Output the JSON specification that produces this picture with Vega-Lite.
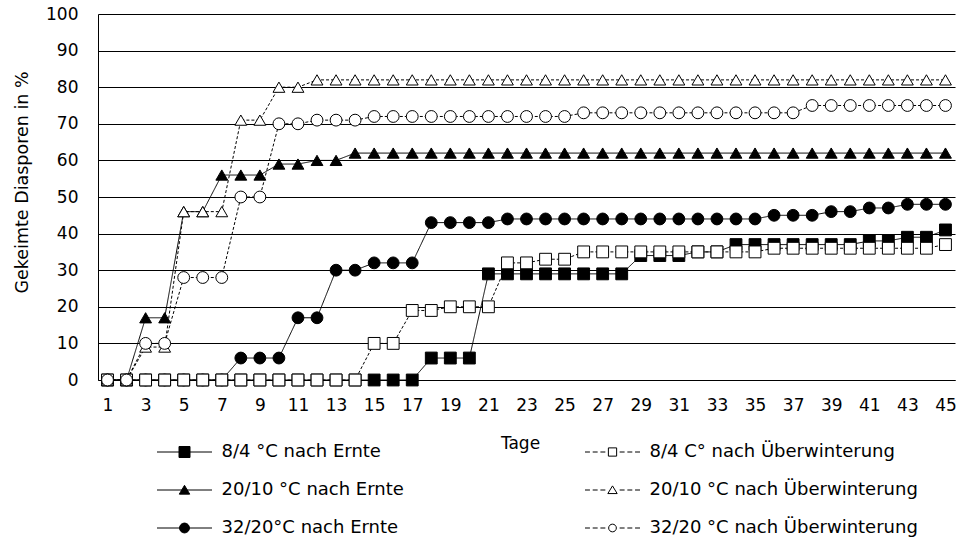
{
  "$schema": "https://vega.github.io/schema/vega-lite/v6.json",
  "width": 857,
  "height": 366,
  "autosize": {"type": "none"},
  "padding": {"left": 98, "top": 14, "right": 3, "bottom": 160},
  "background": "white",
  "config": {"view": {"stroke": null}, "font": "DejaVu Sans"},
  "data": {"values": [
    {"Tag":1,"8/4 °C nach Ernte":0,"20/10 °C nach Ernte":0,"32/20°C nach Ernte":0,"8/4 C° nach Überwinterung":0,"20/10 °C nach Überwinterung":0,"32/20 °C nach Überwinterung":0},
    {"Tag":2,"8/4 °C nach Ernte":0,"20/10 °C nach Ernte":0,"32/20°C nach Ernte":0,"8/4 C° nach Überwinterung":0,"20/10 °C nach Überwinterung":0,"32/20 °C nach Überwinterung":0},
    {"Tag":3,"8/4 °C nach Ernte":0,"20/10 °C nach Ernte":17,"32/20°C nach Ernte":0,"8/4 C° nach Überwinterung":0,"20/10 °C nach Überwinterung":9,"32/20 °C nach Überwinterung":10},
    {"Tag":4,"8/4 °C nach Ernte":0,"20/10 °C nach Ernte":17,"32/20°C nach Ernte":0,"8/4 C° nach Überwinterung":0,"20/10 °C nach Überwinterung":9,"32/20 °C nach Überwinterung":10},
    {"Tag":5,"8/4 °C nach Ernte":0,"20/10 °C nach Ernte":46,"32/20°C nach Ernte":0,"8/4 C° nach Überwinterung":0,"20/10 °C nach Überwinterung":46,"32/20 °C nach Überwinterung":28},
    {"Tag":6,"8/4 °C nach Ernte":0,"20/10 °C nach Ernte":46,"32/20°C nach Ernte":0,"8/4 C° nach Überwinterung":0,"20/10 °C nach Überwinterung":46,"32/20 °C nach Überwinterung":28},
    {"Tag":7,"8/4 °C nach Ernte":0,"20/10 °C nach Ernte":56,"32/20°C nach Ernte":0,"8/4 C° nach Überwinterung":0,"20/10 °C nach Überwinterung":46,"32/20 °C nach Überwinterung":28},
    {"Tag":8,"8/4 °C nach Ernte":0,"20/10 °C nach Ernte":56,"32/20°C nach Ernte":6,"8/4 C° nach Überwinterung":0,"20/10 °C nach Überwinterung":71,"32/20 °C nach Überwinterung":50},
    {"Tag":9,"8/4 °C nach Ernte":0,"20/10 °C nach Ernte":56,"32/20°C nach Ernte":6,"8/4 C° nach Überwinterung":0,"20/10 °C nach Überwinterung":71,"32/20 °C nach Überwinterung":50},
    {"Tag":10,"8/4 °C nach Ernte":0,"20/10 °C nach Ernte":59,"32/20°C nach Ernte":6,"8/4 C° nach Überwinterung":0,"20/10 °C nach Überwinterung":80,"32/20 °C nach Überwinterung":70},
    {"Tag":11,"8/4 °C nach Ernte":0,"20/10 °C nach Ernte":59,"32/20°C nach Ernte":17,"8/4 C° nach Überwinterung":0,"20/10 °C nach Überwinterung":80,"32/20 °C nach Überwinterung":70},
    {"Tag":12,"8/4 °C nach Ernte":0,"20/10 °C nach Ernte":60,"32/20°C nach Ernte":17,"8/4 C° nach Überwinterung":0,"20/10 °C nach Überwinterung":82,"32/20 °C nach Überwinterung":71},
    {"Tag":13,"8/4 °C nach Ernte":0,"20/10 °C nach Ernte":60,"32/20°C nach Ernte":30,"8/4 C° nach Überwinterung":0,"20/10 °C nach Überwinterung":82,"32/20 °C nach Überwinterung":71},
    {"Tag":14,"8/4 °C nach Ernte":0,"20/10 °C nach Ernte":62,"32/20°C nach Ernte":30,"8/4 C° nach Überwinterung":0,"20/10 °C nach Überwinterung":82,"32/20 °C nach Überwinterung":71},
    {"Tag":15,"8/4 °C nach Ernte":0,"20/10 °C nach Ernte":62,"32/20°C nach Ernte":32,"8/4 C° nach Überwinterung":10,"20/10 °C nach Überwinterung":82,"32/20 °C nach Überwinterung":72},
    {"Tag":16,"8/4 °C nach Ernte":0,"20/10 °C nach Ernte":62,"32/20°C nach Ernte":32,"8/4 C° nach Überwinterung":10,"20/10 °C nach Überwinterung":82,"32/20 °C nach Überwinterung":72},
    {"Tag":17,"8/4 °C nach Ernte":0,"20/10 °C nach Ernte":62,"32/20°C nach Ernte":32,"8/4 C° nach Überwinterung":19,"20/10 °C nach Überwinterung":82,"32/20 °C nach Überwinterung":72},
    {"Tag":18,"8/4 °C nach Ernte":6,"20/10 °C nach Ernte":62,"32/20°C nach Ernte":43,"8/4 C° nach Überwinterung":19,"20/10 °C nach Überwinterung":82,"32/20 °C nach Überwinterung":72},
    {"Tag":19,"8/4 °C nach Ernte":6,"20/10 °C nach Ernte":62,"32/20°C nach Ernte":43,"8/4 C° nach Überwinterung":20,"20/10 °C nach Überwinterung":82,"32/20 °C nach Überwinterung":72},
    {"Tag":20,"8/4 °C nach Ernte":6,"20/10 °C nach Ernte":62,"32/20°C nach Ernte":43,"8/4 C° nach Überwinterung":20,"20/10 °C nach Überwinterung":82,"32/20 °C nach Überwinterung":72},
    {"Tag":21,"8/4 °C nach Ernte":29,"20/10 °C nach Ernte":62,"32/20°C nach Ernte":43,"8/4 C° nach Überwinterung":20,"20/10 °C nach Überwinterung":82,"32/20 °C nach Überwinterung":72},
    {"Tag":22,"8/4 °C nach Ernte":29,"20/10 °C nach Ernte":62,"32/20°C nach Ernte":44,"8/4 C° nach Überwinterung":32,"20/10 °C nach Überwinterung":82,"32/20 °C nach Überwinterung":72},
    {"Tag":23,"8/4 °C nach Ernte":29,"20/10 °C nach Ernte":62,"32/20°C nach Ernte":44,"8/4 C° nach Überwinterung":32,"20/10 °C nach Überwinterung":82,"32/20 °C nach Überwinterung":72},
    {"Tag":24,"8/4 °C nach Ernte":29,"20/10 °C nach Ernte":62,"32/20°C nach Ernte":44,"8/4 C° nach Überwinterung":33,"20/10 °C nach Überwinterung":82,"32/20 °C nach Überwinterung":72},
    {"Tag":25,"8/4 °C nach Ernte":29,"20/10 °C nach Ernte":62,"32/20°C nach Ernte":44,"8/4 C° nach Überwinterung":33,"20/10 °C nach Überwinterung":82,"32/20 °C nach Überwinterung":72},
    {"Tag":26,"8/4 °C nach Ernte":29,"20/10 °C nach Ernte":62,"32/20°C nach Ernte":44,"8/4 C° nach Überwinterung":35,"20/10 °C nach Überwinterung":82,"32/20 °C nach Überwinterung":73},
    {"Tag":27,"8/4 °C nach Ernte":29,"20/10 °C nach Ernte":62,"32/20°C nach Ernte":44,"8/4 C° nach Überwinterung":35,"20/10 °C nach Überwinterung":82,"32/20 °C nach Überwinterung":73},
    {"Tag":28,"8/4 °C nach Ernte":29,"20/10 °C nach Ernte":62,"32/20°C nach Ernte":44,"8/4 C° nach Überwinterung":35,"20/10 °C nach Überwinterung":82,"32/20 °C nach Überwinterung":73},
    {"Tag":29,"8/4 °C nach Ernte":34,"20/10 °C nach Ernte":62,"32/20°C nach Ernte":44,"8/4 C° nach Überwinterung":35,"20/10 °C nach Überwinterung":82,"32/20 °C nach Überwinterung":73},
    {"Tag":30,"8/4 °C nach Ernte":34,"20/10 °C nach Ernte":62,"32/20°C nach Ernte":44,"8/4 C° nach Überwinterung":35,"20/10 °C nach Überwinterung":82,"32/20 °C nach Überwinterung":73},
    {"Tag":31,"8/4 °C nach Ernte":34,"20/10 °C nach Ernte":62,"32/20°C nach Ernte":44,"8/4 C° nach Überwinterung":35,"20/10 °C nach Überwinterung":82,"32/20 °C nach Überwinterung":73},
    {"Tag":32,"8/4 °C nach Ernte":35,"20/10 °C nach Ernte":62,"32/20°C nach Ernte":44,"8/4 C° nach Überwinterung":35,"20/10 °C nach Überwinterung":82,"32/20 °C nach Überwinterung":73},
    {"Tag":33,"8/4 °C nach Ernte":35,"20/10 °C nach Ernte":62,"32/20°C nach Ernte":44,"8/4 C° nach Überwinterung":35,"20/10 °C nach Überwinterung":82,"32/20 °C nach Überwinterung":73},
    {"Tag":34,"8/4 °C nach Ernte":37,"20/10 °C nach Ernte":62,"32/20°C nach Ernte":44,"8/4 C° nach Überwinterung":35,"20/10 °C nach Überwinterung":82,"32/20 °C nach Überwinterung":73},
    {"Tag":35,"8/4 °C nach Ernte":37,"20/10 °C nach Ernte":62,"32/20°C nach Ernte":44,"8/4 C° nach Überwinterung":35,"20/10 °C nach Überwinterung":82,"32/20 °C nach Überwinterung":73},
    {"Tag":36,"8/4 °C nach Ernte":37,"20/10 °C nach Ernte":62,"32/20°C nach Ernte":45,"8/4 C° nach Überwinterung":36,"20/10 °C nach Überwinterung":82,"32/20 °C nach Überwinterung":73},
    {"Tag":37,"8/4 °C nach Ernte":37,"20/10 °C nach Ernte":62,"32/20°C nach Ernte":45,"8/4 C° nach Überwinterung":36,"20/10 °C nach Überwinterung":82,"32/20 °C nach Überwinterung":73},
    {"Tag":38,"8/4 °C nach Ernte":37,"20/10 °C nach Ernte":62,"32/20°C nach Ernte":45,"8/4 C° nach Überwinterung":36,"20/10 °C nach Überwinterung":82,"32/20 °C nach Überwinterung":75},
    {"Tag":39,"8/4 °C nach Ernte":37,"20/10 °C nach Ernte":62,"32/20°C nach Ernte":46,"8/4 C° nach Überwinterung":36,"20/10 °C nach Überwinterung":82,"32/20 °C nach Überwinterung":75},
    {"Tag":40,"8/4 °C nach Ernte":37,"20/10 °C nach Ernte":62,"32/20°C nach Ernte":46,"8/4 C° nach Überwinterung":36,"20/10 °C nach Überwinterung":82,"32/20 °C nach Überwinterung":75},
    {"Tag":41,"8/4 °C nach Ernte":38,"20/10 °C nach Ernte":62,"32/20°C nach Ernte":47,"8/4 C° nach Überwinterung":36,"20/10 °C nach Überwinterung":82,"32/20 °C nach Überwinterung":75},
    {"Tag":42,"8/4 °C nach Ernte":38,"20/10 °C nach Ernte":62,"32/20°C nach Ernte":47,"8/4 C° nach Überwinterung":36,"20/10 °C nach Überwinterung":82,"32/20 °C nach Überwinterung":75},
    {"Tag":43,"8/4 °C nach Ernte":39,"20/10 °C nach Ernte":62,"32/20°C nach Ernte":48,"8/4 C° nach Überwinterung":36,"20/10 °C nach Überwinterung":82,"32/20 °C nach Überwinterung":75},
    {"Tag":44,"8/4 °C nach Ernte":39,"20/10 °C nach Ernte":62,"32/20°C nach Ernte":48,"8/4 C° nach Überwinterung":36,"20/10 °C nach Überwinterung":82,"32/20 °C nach Überwinterung":75},
    {"Tag":45,"8/4 °C nach Ernte":41,"20/10 °C nach Ernte":62,"32/20°C nach Ernte":48,"8/4 C° nach Überwinterung":37,"20/10 °C nach Überwinterung":82,"32/20 °C nach Überwinterung":75}
  ]},
  "transform": [
    {"fold": ["8/4 °C nach Ernte","20/10 °C nach Ernte","32/20°C nach Ernte","8/4 C° nach Überwinterung","20/10 °C nach Überwinterung","32/20 °C nach Überwinterung"], "as": ["serie","wert"]}
  ],
  "encoding": {
    "x": {
      "field": "Tag", "type": "quantitative",
      "scale": {"domain": [0.5, 45.5], "nice": false, "zero": false},
      "axis": {
        "values": [1,3,5,7,9,11,13,15,17,19,21,23,25,27,29,31,33,35,37,39,41,43,45],
        "title": "Tage", "grid": false, "ticks": false, "tickSize": 0,
        "labelPadding": 17, "labelFontSize": 17, "labelFont": "DejaVu Sans", "labelColor": "black",
        "labelFlush": false, "labelOverlap": false,
        "domainColor": "black", "domainWidth": 1,
        "titleFont": "DejaVu Sans", "titleFontSize": 17, "titleFontWeight": "normal", "titleColor": "black",
        "titleX": 422, "titleY": 68, "titleBaseline": "alphabetic", "titleAlign": "center"
      }
    },
    "y": {
      "field": "wert", "type": "quantitative",
      "scale": {"domain": [0, 100], "nice": false},
      "axis": {
        "values": [0,10,20,30,40,50,60,70,80,90,100],
        "title": "Gekeimte Diasporen in %", "grid": true, "gridColor": "black", "gridWidth": 1,
        "ticks": false, "tickSize": 0, "labelPadding": 20,
        "labelFontSize": 17, "labelFont": "DejaVu Sans", "labelColor": "black",
        "domainColor": "black", "domainWidth": 1,
        "titleFont": "DejaVu Sans", "titleFontSize": 17.5, "titleFontWeight": "normal", "titleColor": "black",
        "titleAngle": -90, "titleX": -76, "titleY": 168, "titleAlign": "center", "titleBaseline": "middle"
      }
    }
  },
  "layer": [
    {
      "mark": {"type": "line", "color": "black", "strokeWidth": 1},
      "encoding": {
        "detail": {"field": "serie", "type": "nominal"},
        "strokeDash": {
          "field": "serie", "type": "nominal",
          "scale": {"domain": ["8/4 °C nach Ernte","20/10 °C nach Ernte","32/20°C nach Ernte","8/4 C° nach Überwinterung","20/10 °C nach Überwinterung","32/20 °C nach Überwinterung"],
                    "range": [[1,0],[1,0],[1,0],[3,2],[3,2],[3,2]]},
          "legend": null
        }
      }
    },
    {
      "mark": {"type": "point", "filled": true, "stroke": "black", "strokeWidth": 1, "size": 140, "opacity": 1},
      "encoding": {
        "shape": {
          "field": "serie", "type": "nominal",
          "scale": {"domain": ["8/4 °C nach Ernte","20/10 °C nach Ernte","32/20°C nach Ernte","8/4 C° nach Überwinterung","20/10 °C nach Überwinterung","32/20 °C nach Überwinterung"],
                    "range": ["square","triangle-up","circle","square","triangle-up","circle"]},
          "legend": null
        },
        "fill": {
          "field": "serie", "type": "nominal",
          "scale": {"domain": ["8/4 °C nach Ernte","20/10 °C nach Ernte","32/20°C nach Ernte","8/4 C° nach Überwinterung","20/10 °C nach Überwinterung","32/20 °C nach Überwinterung"],
                    "range": ["black","black","black","white","white","white"]},
          "legend": null
        }
      }
    },
    {
      "transform": [{"filter": "datum.wert < 0"}],
      "mark": {"type": "point", "filled": true, "strokeWidth": 1, "opacity": 1},
      "encoding": {
        "shape": {
          "field": "serie", "type": "nominal",
          "scale": {"domain": ["8/4 °C nach Ernte","20/10 °C nach Ernte","32/20°C nach Ernte","8/4 C° nach Überwinterung","20/10 °C nach Überwinterung","32/20 °C nach Überwinterung"],
                    "range": [
                      "M-5,0H5M-1,-1H1V1H-1Z",
                      "M-5,0H5M0,-0.85L0.95,0.75H-0.95Z",
                      "M-5,0H5M0.9,0A0.9,0.9,0,1,1,-0.9,0A0.9,0.9,0,1,1,0.9,0Z",
                      "M-5,0H-4.1M-3.6,0H-2.7M-2.2,0H-1.3M1.3,0H2.2M2.7,0H3.6M4.1,0H5M-0.75,-0.75H0.75V0.75H-0.75Z",
                      "M-5,0H-4.1M-3.6,0H-2.7M-2.2,0H-1.3M1.3,0H2.2M2.7,0H3.6M4.1,0H5M0,-0.75L0.85,0.65H-0.85Z",
                      "M-5,0H-4.1M-3.6,0H-2.7M-2.2,0H-1.3M1.3,0H2.2M2.7,0H3.6M4.1,0H5M0.7,0A0.7,0.7,0,1,1,-0.7,0A0.7,0.7,0,1,1,0.7,0Z"
                    ]},
          "legend": {"title": null, "orient": "none", "legendX": 77.5, "legendY": 429, "columns": 2, "columnPadding": 178, "rowPadding": 20, "padding": 0,
                     "symbolSize": 121, "labelOffset": 28, "labelFont": "DejaVu Sans", "labelFontSize": 18, "labelColor": "black", "labelLimit": 0,
                     "symbolStrokeWidth": 1, "symbolStrokeColor": "black"}
        },
        "fill": {
          "field": "serie", "type": "nominal",
          "scale": {"domain": ["8/4 °C nach Ernte","20/10 °C nach Ernte","32/20°C nach Ernte","8/4 C° nach Überwinterung","20/10 °C nach Überwinterung","32/20 °C nach Überwinterung"],
                    "range": ["black","black","black","white","white","white"]},
          "legend": {"title": null, "orient": "none", "legendX": 77.5, "legendY": 429, "columns": 2, "columnPadding": 178, "rowPadding": 20, "padding": 0,
                     "symbolSize": 121, "labelOffset": 28, "labelFont": "DejaVu Sans", "labelFontSize": 18, "labelColor": "black", "labelLimit": 0,
                     "symbolStrokeWidth": 1, "symbolStrokeColor": "black"}
        },
        "stroke": {
          "field": "serie", "type": "nominal",
          "scale": {"domain": ["8/4 °C nach Ernte","20/10 °C nach Ernte","32/20°C nach Ernte","8/4 C° nach Überwinterung","20/10 °C nach Überwinterung","32/20 °C nach Überwinterung"],
                    "range": ["black","black","black","black","black","black"]},
          "legend": {"title": null, "orient": "none", "legendX": 77.5, "legendY": 429, "columns": 2, "columnPadding": 178, "rowPadding": 20, "padding": 0,
                     "symbolSize": 121, "labelOffset": 28, "labelFont": "DejaVu Sans", "labelFontSize": 18, "labelColor": "black", "labelLimit": 0,
                     "symbolStrokeWidth": 1, "symbolStrokeColor": "black"}
        }
      }
    }
  ],
  "resolve": {"scale": {"shape": "independent", "fill": "independent", "stroke": "independent"}}
}
